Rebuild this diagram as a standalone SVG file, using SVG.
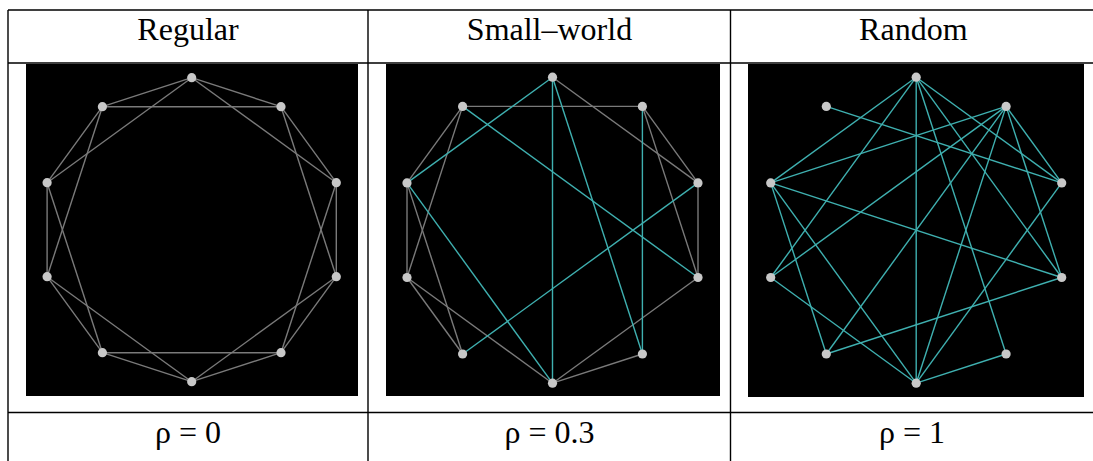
<svg xmlns="http://www.w3.org/2000/svg" width="1093" height="461" viewBox="0 0 1093 461">
<style>
.bg{fill:#fff}
.panel{fill:#000}
.grid{stroke:#000;stroke-width:1.4;fill:none}
.lbl{font-family:"Liberation Serif","Times New Roman",serif;font-size:32px;fill:#000;text-anchor:middle}
.g{stroke:#7a7a7a;stroke-width:1.4}
.t{stroke:#3fb0b0;stroke-width:1.4}
.n{fill:#c8c8c8}
</style>
<rect class="bg" x="0" y="0" width="1093" height="461"/>
<g id="table">
<path class="grid" d="M8,10H1093M8,63H1093M8,412.5H1093M8,10V461M368,10V461M730.5,10V461"/>
</g>
<g id="labels">
<text class="lbl" x="188" y="39.5">Regular</text>
<text class="lbl" x="549.5" y="39.5">Small–world</text>
<text class="lbl" x="913.3" y="39.5">Random</text>
<text class="lbl" x="188" y="443.3">ρ = 0</text>
<text class="lbl" x="549.5" y="443.3">ρ = 0.3</text>
<text class="lbl" x="912" y="443.3">ρ = 1</text>
</g>
<rect class="panel" x="26" y="64" width="332" height="332"/>
<rect class="panel" x="386" y="64" width="334" height="332"/>
<rect class="panel" x="748" y="64" width="336" height="333"/>
<g id="connectors">
<g id="edges-regular" class="g">
<line x1="191.7" y1="77.7" x2="281.0" y2="106.7"/>
<line x1="281.0" y1="106.7" x2="336.3" y2="182.7"/>
<line x1="336.3" y1="182.7" x2="336.3" y2="276.7"/>
<line x1="336.3" y1="276.7" x2="281.0" y2="352.7"/>
<line x1="281.0" y1="352.7" x2="191.7" y2="381.7"/>
<line x1="191.7" y1="381.7" x2="102.4" y2="352.7"/>
<line x1="102.4" y1="352.7" x2="47.1" y2="276.7"/>
<line x1="47.1" y1="276.7" x2="47.1" y2="182.7"/>
<line x1="47.1" y1="182.7" x2="102.4" y2="106.7"/>
<line x1="102.4" y1="106.7" x2="191.7" y2="77.7"/>
<line x1="191.7" y1="77.7" x2="336.3" y2="182.7"/>
<line x1="281.0" y1="106.7" x2="336.3" y2="276.7"/>
<line x1="336.3" y1="182.7" x2="281.0" y2="352.7"/>
<line x1="336.3" y1="276.7" x2="191.7" y2="381.7"/>
<line x1="281.0" y1="352.7" x2="102.4" y2="352.7"/>
<line x1="191.7" y1="381.7" x2="47.1" y2="276.7"/>
<line x1="102.4" y1="352.7" x2="47.1" y2="182.7"/>
<line x1="47.1" y1="276.7" x2="102.4" y2="106.7"/>
<line x1="47.1" y1="182.7" x2="191.7" y2="77.7"/>
<line x1="102.4" y1="106.7" x2="281.0" y2="106.7"/>
</g>
<g id="edges-smallworld-kept" class="g">
<line x1="462.6" y1="106.4" x2="642.4" y2="106.4"/>
<line x1="407.0" y1="182.9" x2="462.6" y2="106.4"/>
<line x1="407.0" y1="277.5" x2="462.6" y2="106.4"/>
<line x1="407.0" y1="277.5" x2="407.0" y2="182.9"/>
<line x1="462.6" y1="354.0" x2="407.0" y2="182.9"/>
<line x1="462.6" y1="354.0" x2="407.0" y2="277.5"/>
<line x1="552.5" y1="383.2" x2="407.0" y2="277.5"/>
<line x1="698.0" y1="277.5" x2="552.5" y2="383.2"/>
<line x1="642.4" y1="354.0" x2="552.5" y2="383.2"/>
<line x1="698.0" y1="182.9" x2="698.0" y2="277.5"/>
<line x1="642.4" y1="106.4" x2="698.0" y2="182.9"/>
<line x1="552.5" y1="77.2" x2="698.0" y2="182.9"/>
<line x1="642.4" y1="106.4" x2="698.0" y2="277.5"/>
</g>
<g id="edges-smallworld-rewired" class="t">
<line x1="462.6" y1="106.4" x2="698.0" y2="277.5"/>
<line x1="407.0" y1="182.9" x2="552.5" y2="77.2"/>
<line x1="407.0" y1="182.9" x2="552.5" y2="383.2"/>
<line x1="462.6" y1="354.0" x2="698.0" y2="182.9"/>
<line x1="552.5" y1="383.2" x2="552.5" y2="77.2"/>
<line x1="642.4" y1="354.0" x2="642.4" y2="106.4"/>
<line x1="642.4" y1="354.0" x2="552.5" y2="77.2"/>
</g>
<g id="edges-random" class="t">
<line x1="916.2" y1="77.2" x2="770.7" y2="182.9"/>
<line x1="916.2" y1="77.2" x2="770.7" y2="277.5"/>
<line x1="916.2" y1="77.2" x2="916.2" y2="383.2"/>
<line x1="916.2" y1="77.2" x2="1006.1" y2="354.0"/>
<line x1="916.2" y1="77.2" x2="1061.7" y2="182.9"/>
<line x1="916.2" y1="77.2" x2="1061.7" y2="277.5"/>
<line x1="1006.1" y1="106.4" x2="770.7" y2="182.9"/>
<line x1="1006.1" y1="106.4" x2="770.7" y2="277.5"/>
<line x1="1006.1" y1="106.4" x2="826.3" y2="354.0"/>
<line x1="1006.1" y1="106.4" x2="916.2" y2="383.2"/>
<line x1="1006.1" y1="106.4" x2="1061.7" y2="182.9"/>
<line x1="1006.1" y1="106.4" x2="1061.7" y2="277.5"/>
<line x1="1061.7" y1="182.9" x2="826.3" y2="106.4"/>
<line x1="1061.7" y1="182.9" x2="916.2" y2="383.2"/>
<line x1="1061.7" y1="277.5" x2="770.7" y2="182.9"/>
<line x1="1061.7" y1="277.5" x2="826.3" y2="354.0"/>
<line x1="1006.1" y1="354.0" x2="916.2" y2="383.2"/>
<line x1="916.2" y1="383.2" x2="770.7" y2="182.9"/>
<line x1="916.2" y1="383.2" x2="770.7" y2="277.5"/>
<line x1="826.3" y1="354.0" x2="770.7" y2="182.9"/>
</g>
</g>
<g id="nodes-regular">
<g id="r0"><circle class="n" cx="191.7" cy="77.7" r="4.6"/></g>
<g id="r1"><circle class="n" cx="281.0" cy="106.7" r="4.6"/></g>
<g id="r2"><circle class="n" cx="336.3" cy="182.7" r="4.6"/></g>
<g id="r3"><circle class="n" cx="336.3" cy="276.7" r="4.6"/></g>
<g id="r4"><circle class="n" cx="281.0" cy="352.7" r="4.6"/></g>
<g id="r5"><circle class="n" cx="191.7" cy="381.7" r="4.6"/></g>
<g id="r6"><circle class="n" cx="102.4" cy="352.7" r="4.6"/></g>
<g id="r7"><circle class="n" cx="47.1" cy="276.7" r="4.6"/></g>
<g id="r8"><circle class="n" cx="47.1" cy="182.7" r="4.6"/></g>
<g id="r9"><circle class="n" cx="102.4" cy="106.7" r="4.6"/></g>
</g>
<g id="nodes-smallworld">
<g id="s0"><circle class="n" cx="552.5" cy="77.2" r="4.6"/></g>
<g id="s1"><circle class="n" cx="642.4" cy="106.4" r="4.6"/></g>
<g id="s2"><circle class="n" cx="698.0" cy="182.9" r="4.6"/></g>
<g id="s3"><circle class="n" cx="698.0" cy="277.5" r="4.6"/></g>
<g id="s4"><circle class="n" cx="642.4" cy="354.0" r="4.6"/></g>
<g id="s5"><circle class="n" cx="552.5" cy="383.2" r="4.6"/></g>
<g id="s6"><circle class="n" cx="462.6" cy="354.0" r="4.6"/></g>
<g id="s7"><circle class="n" cx="407.0" cy="277.5" r="4.6"/></g>
<g id="s8"><circle class="n" cx="407.0" cy="182.9" r="4.6"/></g>
<g id="s9"><circle class="n" cx="462.6" cy="106.4" r="4.6"/></g>
</g>
<g id="nodes-random">
<g id="q0"><circle class="n" cx="916.2" cy="77.2" r="4.6"/></g>
<g id="q1"><circle class="n" cx="1006.1" cy="106.4" r="4.6"/></g>
<g id="q2"><circle class="n" cx="1061.7" cy="182.9" r="4.6"/></g>
<g id="q3"><circle class="n" cx="1061.7" cy="277.5" r="4.6"/></g>
<g id="q4"><circle class="n" cx="1006.1" cy="354.0" r="4.6"/></g>
<g id="q5"><circle class="n" cx="916.2" cy="383.2" r="4.6"/></g>
<g id="q6"><circle class="n" cx="826.3" cy="354.0" r="4.6"/></g>
<g id="q7"><circle class="n" cx="770.7" cy="277.5" r="4.6"/></g>
<g id="q8"><circle class="n" cx="770.7" cy="182.9" r="4.6"/></g>
<g id="q9"><circle class="n" cx="826.3" cy="106.4" r="4.6"/></g>
</g>
</svg>
